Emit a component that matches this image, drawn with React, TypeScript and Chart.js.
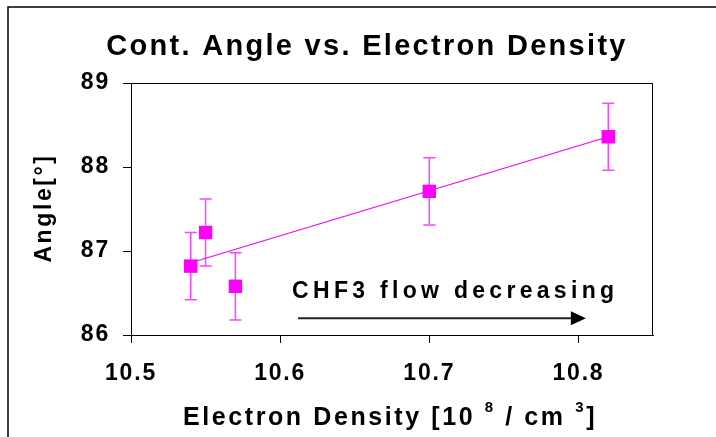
import React, { useEffect, useRef } from "react";
import { Chart, registerables } from "chart.js";

Chart.register(...registerables);

// ---- data ----
const densities = [10.54, 10.55, 10.57, 10.7, 10.82];
const angles = [86.82, 87.22, 86.58, 87.71, 88.36];
const angleErrors = [0.4, 0.4, 0.4, 0.4, 0.4];
const trendX = [10.54, 10.82];
const trendY = [86.86, 88.36];
const xTicks = [10.5, 10.6, 10.7, 10.8];
const yTicks = [86, 87, 88, 89];
const xRange = [10.5, 10.85];
const yRange = [86, 89];

const titleText = "Cont. Angle vs. Electron Density";
const yTitleText = "Angle[°]";
const xTitleParts = [
  { t: "Electron Density [10 ", sup: false },
  { t: "8", sup: true },
  { t: " / cm ", sup: false },
  { t: "3", sup: true },
  { t: "]", sup: false },
];
const annotationText = "CHF3 flow decreasing";
const annotationAt = [10.608, 86.44];
const arrowFrom = [10.612, 86.2];
const arrowTo = [10.805, 86.2];

const FONT = "'Liberation Sans', Arial, Helvetica, sans-serif";
const MAGENTA = "#FF00FF";
const ERR = "#FF44FF";

const decor = {
  id: "decor",
  beforeDraw(chart: any) {
    const ctx = chart.ctx;
    ctx.save();
    ctx.fillStyle = "#ffffff";
    ctx.fillRect(0, 0, chart.width, chart.height);
    ctx.strokeStyle = "#000";
    ctx.lineWidth = 1.5;
    ctx.beginPath();
    ctx.moveTo(8, chart.height);
    ctx.lineTo(8, 7);
    ctx.lineTo(chart.width, 7);
    ctx.stroke();
    ctx.restore();
    (ctx as any).letterSpacing = "1.8px";
  },
  beforeDatasetsDraw(chart: any) {
    const ctx = chart.ctx;
    const xs = chart.scales.x;
    const ys = chart.scales.y;
    ctx.save();
    ctx.strokeStyle = ERR;
    ctx.lineWidth = 1.5;
    for (let i = 0; i < densities.length; i++) {
      const px = xs.getPixelForValue(densities[i]);
      const top = ys.getPixelForValue(angles[i] + angleErrors[i]);
      const bot = ys.getPixelForValue(angles[i] - angleErrors[i]);
      ctx.beginPath();
      ctx.moveTo(px, top);
      ctx.lineTo(px, bot);
      ctx.moveTo(px - 6, top);
      ctx.lineTo(px + 6, top);
      ctx.moveTo(px - 6, bot);
      ctx.lineTo(px + 6, bot);
      ctx.stroke();
    }
    ctx.restore();
  },
  afterDraw(chart: any) {
    const ctx = chart.ctx;
    (ctx as any).letterSpacing = "0px";
    const a = chart.chartArea;
    const xs = chart.scales.x;
    const ys = chart.scales.y;
    ctx.save();
    // plot box
    ctx.strokeStyle = "#000";
    ctx.lineWidth = 1;
    ctx.strokeRect(a.left + 0.5, a.top + 0.5, a.right - a.left - 1, a.bottom - a.top);

    ctx.fillStyle = "#000";
    ctx.textBaseline = "alphabetic";
    ctx.textAlign = "left";

    // title
    ctx.font = `bold 29px ${FONT}`;
    (ctx as any).letterSpacing = "2.3px";
    let w = ctx.measureText(titleText).width;
    ctx.fillText(titleText, 367 - w / 2, 55);

    // y title
    ctx.save();
    ctx.font = `bold 23px ${FONT}`;
    (ctx as any).letterSpacing = "2.6px";
    w = ctx.measureText(yTitleText).width;
    ctx.translate(51, 208);
    ctx.rotate(-Math.PI / 2);
    ctx.fillText(yTitleText, -w / 2, 0);
    ctx.restore();

    // x title with superscripts
    (ctx as any).letterSpacing = "2.6px";
    const mainFont = `bold 25px ${FONT}`;
    const supFont = `bold 15px ${FONT}`;
    let total = 0;
    const widths = xTitleParts.map((p) => {
      ctx.font = p.sup ? supFont : mainFont;
      const ww = ctx.measureText(p.t).width;
      total += ww;
      return ww;
    });
    let cx = 390 - total / 2;
    xTitleParts.forEach((p, i) => {
      ctx.font = p.sup ? supFont : mainFont;
      ctx.fillText(p.t, cx, p.sup ? 425 - 13 : 425);
      cx += widths[i];
    });

    // annotation
    ctx.font = `bold 23px ${FONT}`;
    (ctx as any).letterSpacing = "4.3px";
    ctx.fillText(
      annotationText,
      xs.getPixelForValue(annotationAt[0]),
      ys.getPixelForValue(annotationAt[1])
    );
    (ctx as any).letterSpacing = "0px";

    // arrow
    const ax0 = xs.getPixelForValue(arrowFrom[0]);
    const ax1 = xs.getPixelForValue(arrowTo[0]);
    const ay = ys.getPixelForValue(arrowFrom[1]);
    ctx.strokeStyle = "#222";
    ctx.lineWidth = 2;
    ctx.beginPath();
    ctx.moveTo(ax0, ay);
    ctx.lineTo(ax1 - 14, ay);
    ctx.stroke();
    ctx.fillStyle = "#000";
    ctx.beginPath();
    ctx.moveTo(ax1, ay);
    ctx.lineTo(ax1 - 15, ay - 7);
    ctx.lineTo(ax1 - 15, ay + 7);
    ctx.closePath();
    ctx.fill();
    ctx.restore();
  },
};

export default function App() {
  const ref = useRef<HTMLCanvasElement | null>(null);
  useEffect(() => {
    if (!ref.current) return;
    const tickFont = { family: FONT, size: 23, weight: "bold" as const };
    const chart = new Chart(ref.current, {
      type: "scatter",
      data: {
        datasets: [
          {
            label: "Angle",
            data: densities.map((x, i) => ({ x, y: angles[i] })),
            backgroundColor: MAGENTA,
            borderColor: MAGENTA,
            borderWidth: 0,
            pointStyle: "rect",
            pointRadius: 9.5,
            order: 0,
          },
          {
            type: "line",
            label: "Trend",
            data: trendX.map((x, i) => ({ x, y: trendY[i] })),
            borderColor: MAGENTA,
            borderWidth: 1.2,
            pointRadius: 0,
            fill: false,
            order: 1,
          } as any,
        ],
      },
      options: {
        animation: false,
        responsive: false,
        devicePixelRatio: 1,
        layout: { padding: { left: 0, top: 83, right: 63, bottom: 0 } },
        plugins: { legend: { display: false }, title: { display: false }, tooltip: { enabled: false } },
        scales: {
          x: {
            type: "linear",
            min: xRange[0],
            max: xRange[1],
            afterBuildTicks: (s: any) => {
              s.ticks = xTicks.map((v) => ({ value: v }));
            },
            afterFit: (s: any) => {
              s.height = 102;
            },
            grid: { drawOnChartArea: false, drawTicks: true, tickLength: 8, color: "#000", tickColor: "#000" },
            border: { display: true, color: "#000", width: 1 },
            ticks: {
              color: "#000",
              font: tickFont,
              padding: 17,
              maxRotation: 0,
              autoSkip: false,
              callback: (v: any) => Number(v).toFixed(1),
            },
          },
          y: {
            type: "linear",
            min: yRange[0],
            max: yRange[1],
            afterBuildTicks: (s: any) => {
              s.ticks = yTicks.map((v) => ({ value: v }));
            },
            afterFit: (s: any) => {
              s.width = 131;
            },
            grid: { drawOnChartArea: false, drawTicks: true, tickLength: 8, color: "#000", tickColor: "#000" },
            border: { display: true, color: "#000", width: 1 },
            ticks: {
              color: "#000",
              font: tickFont,
              padding: 13,
              autoSkip: false,
              callback: (v: any) => String(v),
            },
          },
        },
      },
      plugins: [decor],
    });
    return () => chart.destroy();
  }, []);
  return (
    <canvas
      ref={ref}
      width={716}
      height={437}
      style={{ position: "fixed", left: 0, top: 0, width: 716, height: 437 }}
    />
  );
}
